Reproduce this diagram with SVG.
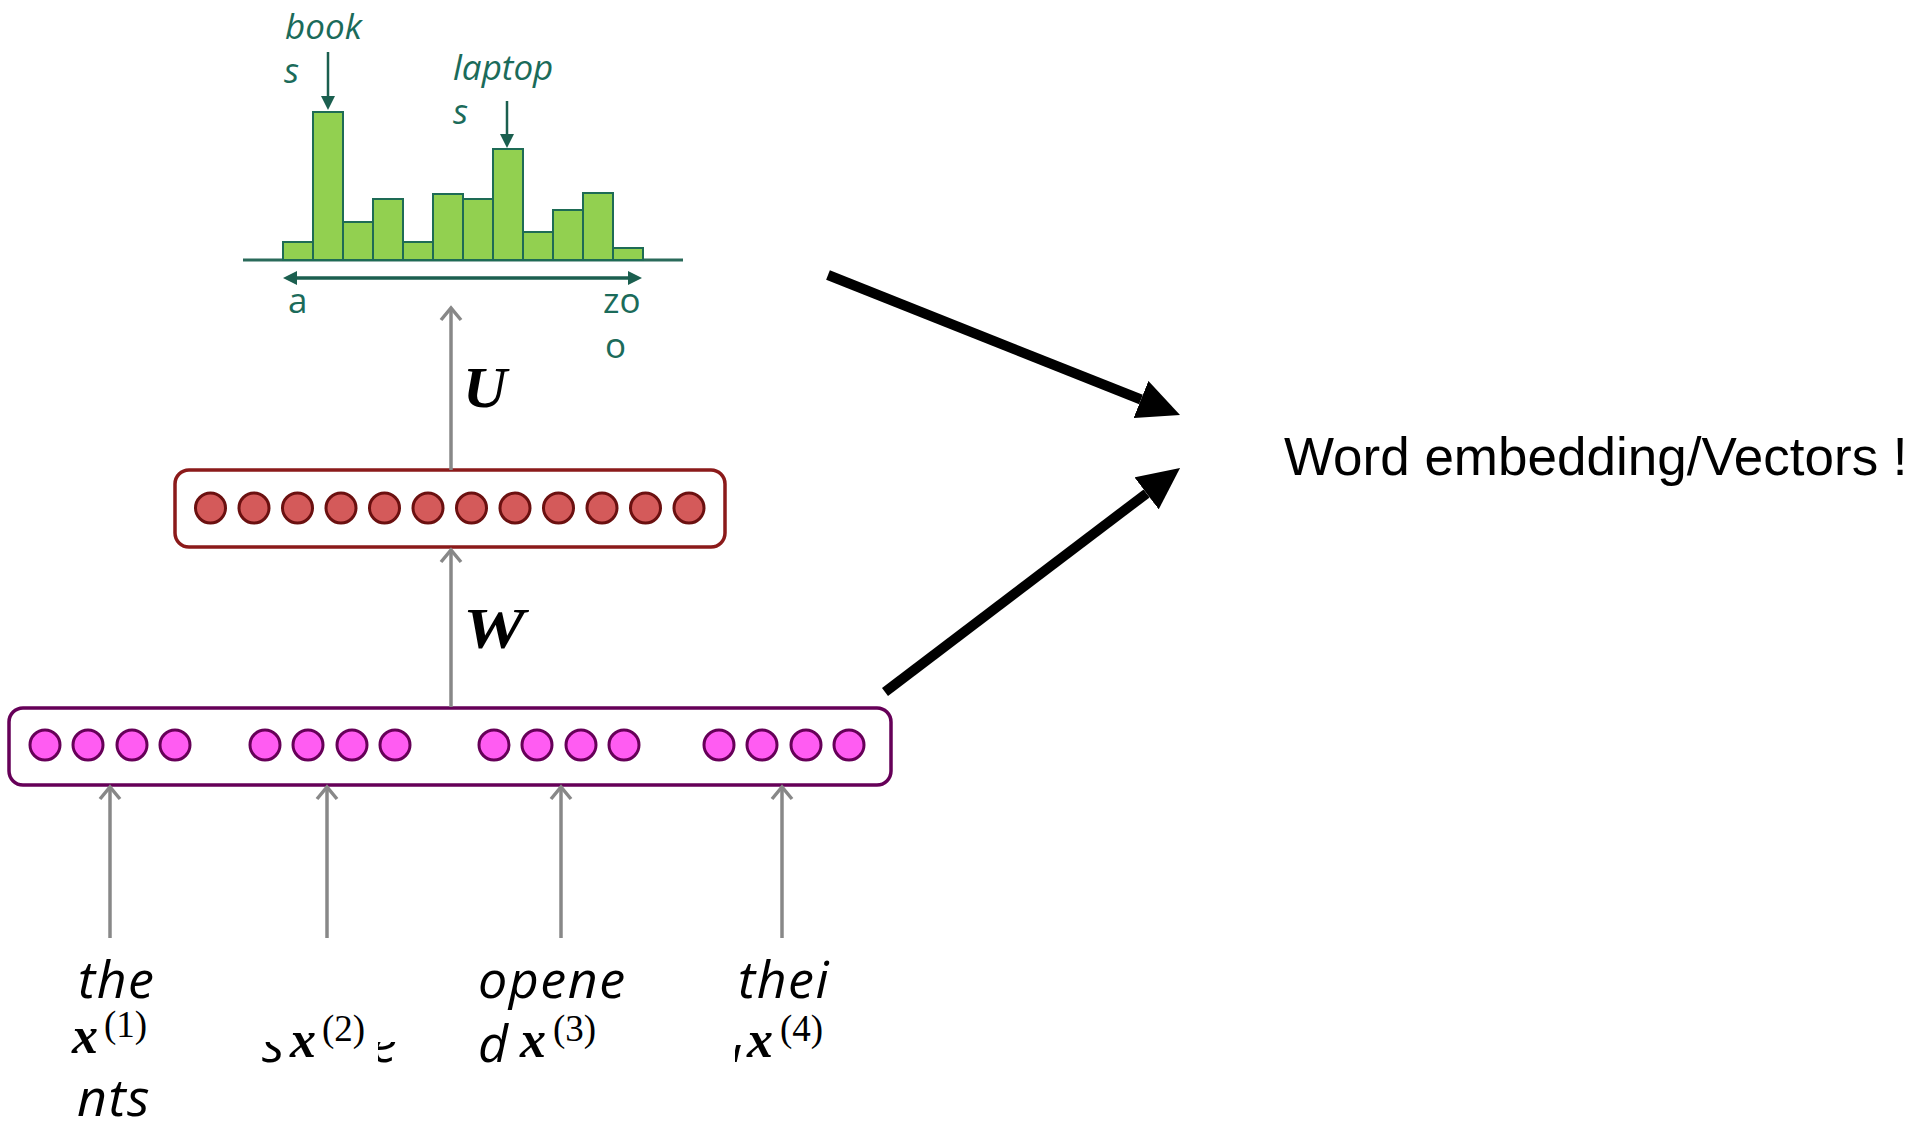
<svg xmlns="http://www.w3.org/2000/svg" width="1921" height="1131" viewBox="0 0 1921 1131">
<style>
.teal{font-family:"Open Sans","Noto Sans",sans-serif;font-size:35px;fill:#1b6b5a}
.it{font-style:italic}
.word{font-family:"Open Sans","Noto Sans",sans-serif;font-style:italic;font-size:52px;letter-spacing:1.5px;fill:#000}
.mx{font-family:"Liberation Serif","DejaVu Serif",serif;font-style:italic;font-weight:bold;font-size:52px;fill:#000}
.sup{font-family:"Liberation Serif","DejaVu Serif",serif;font-size:37px;fill:#000}
.mat{font-family:"Liberation Serif","DejaVu Serif",serif;font-style:italic;font-weight:bold;font-size:56px;fill:#000}
.bar{fill:#92d050;stroke:#1e6b55;stroke-width:2}
.pk{fill:#ff5cf2;stroke:#660058;stroke-width:3}
.rd{fill:#d45a5a;stroke:#6b1010;stroke-width:3}
.gray{stroke:#888;stroke-width:3.5;fill:none}
</style>
<defs>
<marker id="chev" markerUnits="userSpaceOnUse" viewBox="-14 -12 16 24" refX="0" refY="0" markerWidth="16" markerHeight="24" orient="auto" overflow="visible">
<path d="M-12,-10 L0,0 L-12,10" fill="none" stroke="#888" stroke-width="3.5"/>
</marker>
<marker id="big" markerUnits="userSpaceOnUse" viewBox="0 0 42 40" refX="0" refY="20" markerWidth="42" markerHeight="40" orient="auto">
<path d="M0,0 L42,20 L0,40 z" fill="#000"/>
</marker>
<marker id="tealhead" markerUnits="userSpaceOnUse" viewBox="0 0 14 14" refX="0" refY="7" markerWidth="14" markerHeight="14" orient="auto-start-reverse">
<path d="M0,0 L14,7 L0,14 z" fill="#1b5f4f"/>
</marker>
<clipPath id="c2s"><rect x="255" y="1042" width="30" height="21"/></clipPath>
<clipPath id="c2e"><rect x="378" y="1042" width="20" height="21"/></clipPath>
<clipPath id="c3d"><rect x="470" y="1000" width="40" height="63"/></clipPath>
<clipPath id="c4r"><rect x="735" y="1045" width="7" height="18"/></clipPath>
</defs>

<g id="histogram">
<line x1="243" y1="260" x2="683" y2="260" stroke="#2a6a5a" stroke-width="3"/>
<rect class="bar" x="283" y="242" width="30" height="18"/>
<rect class="bar" x="313" y="112" width="30" height="148"/>
<rect class="bar" x="343" y="222" width="30" height="38"/>
<rect class="bar" x="373" y="199" width="30" height="61"/>
<rect class="bar" x="403" y="242" width="30" height="18"/>
<rect class="bar" x="433" y="194" width="30" height="66"/>
<rect class="bar" x="463" y="199" width="30" height="61"/>
<rect class="bar" x="493" y="149" width="30" height="111"/>
<rect class="bar" x="523" y="232" width="30" height="28"/>
<rect class="bar" x="553" y="210" width="30" height="50"/>
<rect class="bar" x="583" y="193" width="30" height="67"/>
<rect class="bar" x="613" y="248" width="30" height="12"/>
<line x1="297" y1="278" x2="628" y2="278" stroke="#1b5f4f" stroke-width="3.5" marker-start="url(#tealhead)" marker-end="url(#tealhead)"/>
<line x1="328" y1="52" x2="328" y2="96" stroke="#1b5f4f" stroke-width="2.5" marker-end="url(#tealhead)"/>
<line x1="507" y1="101" x2="507" y2="134" stroke="#1b5f4f" stroke-width="2.5" marker-end="url(#tealhead)"/>
<text class="teal it" x="285" y="39">book</text>
<text class="teal it" x="284" y="83">s</text>
<text class="teal it" x="453" y="80">laptop</text>
<text class="teal it" x="453" y="124">s</text>
<text class="teal" x="288" y="313">a</text>
<text class="teal" x="603" y="313">zo</text>
<text class="teal" x="605" y="358">o</text>
</g>

<g id="hidden-layer">
<rect x="175" y="470" width="550" height="77" rx="14" fill="#fff" stroke="#8b1a1a" stroke-width="3.5"/>
<circle class="rd" cx="210.5" cy="508" r="15"/>
<circle class="rd" cx="254" cy="508" r="15"/>
<circle class="rd" cx="297.5" cy="508" r="15"/>
<circle class="rd" cx="341" cy="508" r="15"/>
<circle class="rd" cx="384.5" cy="508" r="15"/>
<circle class="rd" cx="428" cy="508" r="15"/>
<circle class="rd" cx="471.5" cy="508" r="15"/>
<circle class="rd" cx="515" cy="508" r="15"/>
<circle class="rd" cx="558.5" cy="508" r="15"/>
<circle class="rd" cx="602" cy="508" r="15"/>
<circle class="rd" cx="645.5" cy="508" r="15"/>
<circle class="rd" cx="689" cy="508" r="15"/>
</g>

<g id="embedding-layer">
<rect x="9" y="708" width="882" height="77" rx="14" fill="#fff" stroke="#660058" stroke-width="3.5"/>
<circle class="pk" cx="45" cy="745" r="15"/>
<circle class="pk" cx="88" cy="745" r="15"/>
<circle class="pk" cx="132" cy="745" r="15"/>
<circle class="pk" cx="175" cy="745" r="15"/>
<circle class="pk" cx="265" cy="745" r="15"/>
<circle class="pk" cx="308" cy="745" r="15"/>
<circle class="pk" cx="352" cy="745" r="15"/>
<circle class="pk" cx="395" cy="745" r="15"/>
<circle class="pk" cx="494" cy="745" r="15"/>
<circle class="pk" cx="537" cy="745" r="15"/>
<circle class="pk" cx="581" cy="745" r="15"/>
<circle class="pk" cx="624" cy="745" r="15"/>
<circle class="pk" cx="719" cy="745" r="15"/>
<circle class="pk" cx="762" cy="745" r="15"/>
<circle class="pk" cx="806" cy="745" r="15"/>
<circle class="pk" cx="849" cy="745" r="15"/>
</g>

<g id="label-U"><text class="mat" x="463" y="407" textLength="44" lengthAdjust="spacingAndGlyphs">U</text></g>
<g id="label-W"><text class="mat" x="463" y="648" textLength="62" lengthAdjust="spacingAndGlyphs">W</text></g>

<g id="word-1">
<text class="word" x="78" y="998">the</text>
<text class="mx" x="72" y="1053">x</text><text class="sup" x="104" y="1037">(1)</text>
<text class="word" x="77" y="1116">nts</text>
</g>
<g id="word-2">
<text class="word" x="262" y="1062" clip-path="url(#c2s)">s</text>
<text class="mx" x="290" y="1057">x</text><text class="sup" x="322" y="1041">(2)</text>
<text class="word" x="371" y="1062" clip-path="url(#c2e)">e</text>
</g>
<g id="word-3">
<text class="word" x="478" y="998">opene</text>
<text class="word" x="478" y="1062" clip-path="url(#c3d)">d</text>
<text class="mx" x="520" y="1057">x</text><text class="sup" x="553" y="1041">(3)</text>
</g>
<g id="word-4">
<text class="word" x="738" y="998">thei</text>
<text class="word" x="731" y="1062" clip-path="url(#c4r)">r</text>
<text class="mx" x="747" y="1057">x</text><text class="sup" x="780" y="1041">(4)</text>
</g>

<g id="output-label">
<text x="1284" y="475" font-family="Liberation Sans, Arial, sans-serif" font-size="53" fill="#000">Word embedding/Vectors !</text>
</g>

<g id="connectors">
<line class="gray" x1="451" y1="470" x2="451" y2="308" marker-end="url(#chev)"/>
<line class="gray" x1="451" y1="707" x2="451" y2="550" marker-end="url(#chev)"/>
<line class="gray" x1="110" y1="938" x2="110" y2="787" marker-end="url(#chev)"/>
<line class="gray" x1="327" y1="938" x2="327" y2="787" marker-end="url(#chev)"/>
<line class="gray" x1="561" y1="938" x2="561" y2="787" marker-end="url(#chev)"/>
<line class="gray" x1="782" y1="938" x2="782" y2="787" marker-end="url(#chev)"/>
<line x1="828" y1="275" x2="1141" y2="399.5" stroke="#000" stroke-width="10" marker-end="url(#big)"/>
<line x1="885" y1="692" x2="1146.6" y2="493.4" stroke="#000" stroke-width="10" marker-end="url(#big)"/>
</g>
</svg>
